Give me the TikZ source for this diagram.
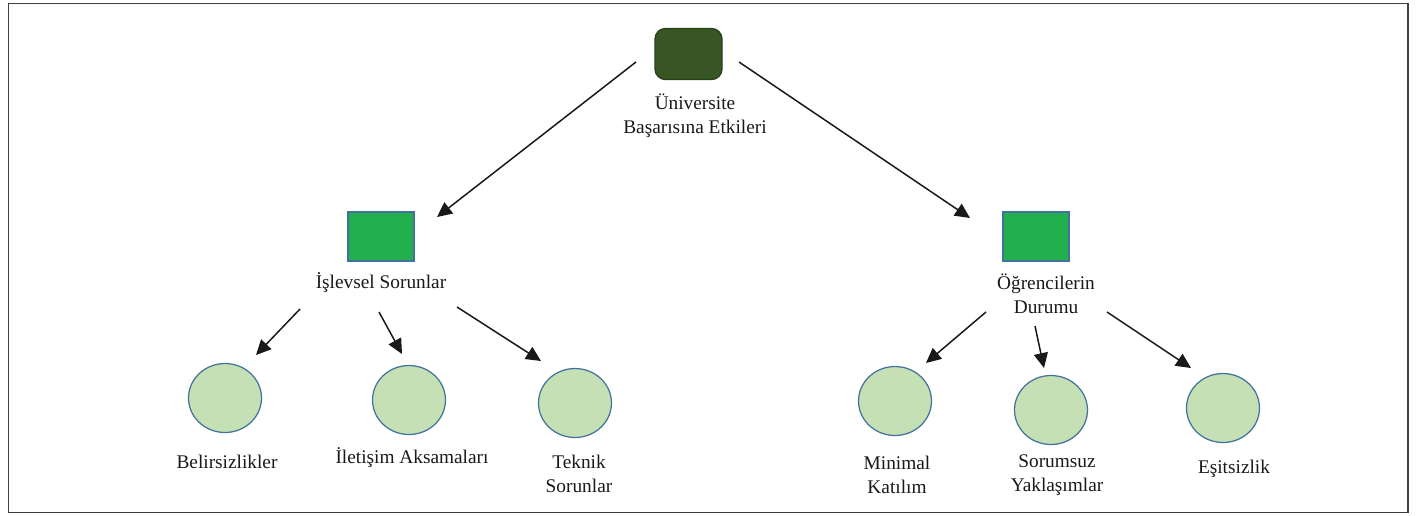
\documentclass[tikz,border=0pt]{standalone}
\usepackage{fontspec}
\setmainfont{Liberation Serif}
\usetikzlibrary{arrows.meta,shapes.geometric}
\definecolor{rootgreen}{HTML}{375623}
\definecolor{rootedge}{HTML}{2A421B}
\definecolor{midgreen}{HTML}{22B04E}
\definecolor{leafgreen}{HTML}{C5E0B4}
\definecolor{edgeblue}{HTML}{41719C}
\tikzset{
  rootbox/.style={draw=rootedge,fill=rootgreen,rounded corners=6pt,line width=0.8pt,minimum width=1.34cm,minimum height=1.02cm,inner sep=0pt},
  midbox/.style={draw=edgeblue,fill=midgreen,line width=0.7pt,minimum width=1.32cm,minimum height=0.98cm,inner sep=0pt},
  leaf/.style={ellipse,draw=edgeblue,fill=leafgreen,line width=0.7pt,minimum width=1.46cm,minimum height=1.38cm,inner sep=0pt},
  lbl/.style={align=center,font=\fontsize{11}{13.6}\selectfont,text=black!90,inner sep=0pt},
  arr/.style={-{Triangle[length=8.5pt,width=8pt]},line width=0.85pt,black!90}
}
\begin{document}
\begin{tikzpicture}[x=0.02cm,y=-0.02cm]
\useasboundingbox (0,0) rectangle (1417,515);
%\draw[step=50,gray,very thin] (0,0) grid (1417,515);
\draw[line width=1.1pt,black!75] (8.5,3.5) rectangle (1408,512.5);
% top
\node[rootbox] (top) at (688.5,54) {};
\node[lbl] (ltop) at (695,116) {Üniversite\\Başarısına Etkileri};
% second level
\node[midbox] (islevsel) at (381,236.5) {};
\node[lbl] (lislevsel) at (381,283) {İşlevsel Sorunlar};
\node[midbox] (ogrenci) at (1036,236.5) {};
\node[lbl] (logrenci) at (1046,294) {Öğrencilerin\\Durumu};
% leaves
\node[leaf] (belir) at (225,398) {};
\node[leaf] (iletisim) at (409,400) {};
\node[leaf] (teknik) at (575,403) {};
\node[leaf] (minimal) at (895,401) {};
\node[leaf] (sorumsuz) at (1051,410) {};
\node[leaf] (esit) at (1223,408) {};
\node[lbl] (lbelir) at (227,462) {Belirsizlikler};
\node[lbl] (liletisim) at (412,458) {İletişim Aksamaları};
\node[lbl] (lteknik) at (579,474) {Teknik\\Sorunlar};
\node[lbl] (lminimal) at (897,475) {Minimal\\Katılım};
\node[lbl] (lsorumsuz) at (1057,475) {Sorumsuz\\Yaklaşımlar};
\node[lbl] (lesit) at (1234,469) {Eşitsizlik};
% arrow ends
\coordinate (a1) at (636,62);   \coordinate (b1) at (437,217);
\coordinate (a2) at (739,62);   \coordinate (b2) at (970,218);
\coordinate (a3) at (300,309);  \coordinate (b3) at (256,355);
\coordinate (a4) at (379,312);  \coordinate (b4) at (402,354);
\coordinate (a5) at (457,307);  \coordinate (b5) at (541,361);
\coordinate (a6) at (986,312);  \coordinate (b6) at (926,363);
\coordinate (a7) at (1035,326); \coordinate (b7) at (1044,368);
\coordinate (a8) at (1107,312); \coordinate (b8) at (1191,368);
\foreach \i in {1,...,8}
  \draw[arr] (a\i) -- (b\i);
\end{tikzpicture}
\end{document}
